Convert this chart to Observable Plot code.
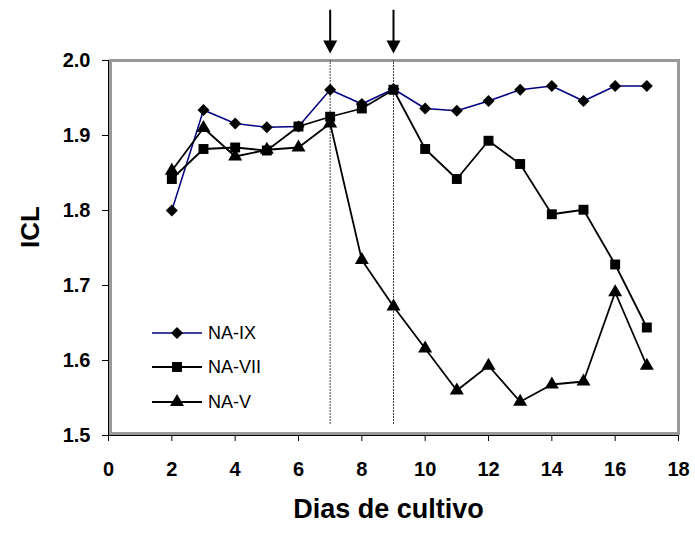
<!DOCTYPE html>
<html>
<head>
<meta charset="utf-8">
<script src="https://cdn.jsdelivr.net/npm/d3@7"></script>
<script src="https://cdn.jsdelivr.net/npm/@observablehq/plot@0.6"></script>
<style>
  html, body { margin: 0; padding: 0; background: #fff; }
  #wrap { position: relative; width: 695px; height: 536px; }
  #legend { position: absolute; left: 0; top: 0; pointer-events: none; }
</style>
</head>
<body>
<div id="wrap"></div>
<script>
// ---- data ----
const days = [2, 3, 4, 5, 6, 7, 8, 9, 10, 11, 12, 13, 14, 15, 16, 17];
const naIX  = [1.800, 1.934, 1.916, 1.911, 1.912, 1.961, 1.942, 1.962, 1.936, 1.933, 1.946, 1.961, 1.966, 1.946, 1.966, 1.966];
const naVII = [1.842, 1.882, 1.884, 1.880, 1.912, 1.925, 1.936, 1.961, 1.882, 1.842, 1.893, 1.862, 1.795, 1.801, 1.728, 1.644];
const naV   = [1.853, 1.910, 1.872, 1.881, 1.884, 1.916, 1.734, 1.672, 1.616, 1.560, 1.593, 1.545, 1.568, 1.572, 1.691, 1.593];
const seriesNames = ["NA-IX", "NA-VII", "NA-V"];
const xTicks = [0, 2, 4, 6, 8, 10, 12, 14, 16, 18];
const yTicks = [1.5, 1.6, 1.7, 1.8, 1.9, 2.0];
const markerDays = [7, 9];          // dotted reference lines / arrows
const dottedRange = [1.515, 2.0];   // y extent of dotted lines
const arrowRange = [2.067, 2.018];  // arrow shaft (top -> head centre)

const rows = (vals) => days.map((d, i) => ({day: d, value: vals[i]}));
const dIX = rows(naIX), dVII = rows(naVII), dV = rows(naV);

const downTriangle = {
  draw(ctx, size) {
    const r = Math.sqrt(size / Math.PI);
    ctx.moveTo(-r, -0.93 * r);
    ctx.lineTo(r, -0.93 * r);
    ctx.lineTo(0, 0.93 * r);
    ctx.closePath();
  }
};

const W = 695, H = 536, mL = 108, mR = 17, mT = 60, mB = 101;
const font = "'Liberation Sans', Arial, Helvetica, sans-serif";

const chart = Plot.plot({
  width: W, height: H,
  marginLeft: mL, marginRight: mR, marginTop: mT, marginBottom: mB,
  style: {fontFamily: font, fontSize: "20px", fontWeight: "bold", color: "#000", background: "#fff", overflow: "visible"},
  x: {domain: [0, 18], ticks: xTicks, tickSize: 6, tickPadding: 20, tickFormat: d3.format("d"), label: null},
  y: {domain: [1.5, 2.0], ticks: yTicks, tickSize: 6, tickPadding: 12, tickFormat: d3.format(".1f"), label: null},
  marks: [
    Plot.frame({stroke: "#9a9a9a", strokeWidth: 3, insetLeft: 2, insetBottom: 2}),
    Plot.ruleX([0], {stroke: "#000", strokeWidth: 1}),
    Plot.ruleY([1.5], {stroke: "#000", strokeWidth: 1}),
    Plot.ruleX(markerDays, {x: d => d, y1: dottedRange[0], y2: dottedRange[1], stroke: "#000", strokeWidth: 1, strokeDasharray: "1.5,1.5"}),
    Plot.ruleX(markerDays, {x: d => d, y1: arrowRange[0], y2: arrowRange[1], stroke: "#000", strokeWidth: 2}),
    Plot.dot(markerDays, {x: d => d, y: arrowRange[1], symbol: downTriangle, r: 7, fill: "#000", stroke: "none"}),
    // NA-IX
    Plot.line(dIX, {x: "day", y: "value", stroke: "#000080", strokeWidth: 1.5}),
    Plot.dot(dIX, {x: "day", y: "value", symbol: "diamond2", r: 5.4, fill: "#000", stroke: "none"}),
    // NA-V
    Plot.line(dV, {x: "day", y: "value", stroke: "#000", strokeWidth: 1.8}),
    Plot.dot(dV, {x: "day", y: "value", symbol: "triangle", r: 5.2, fill: "#000", stroke: "none"}),
    // NA-VII
    Plot.line(dVII, {x: "day", y: "value", stroke: "#000", strokeWidth: 1.8}),
    Plot.dot(dVII, {x: "day", y: "value", symbol: "square", r: 5.6, fill: "#000", stroke: "none"}),
    // axis titles
    Plot.text(["Dias de cultivo"], {text: d => d, frameAnchor: "bottom", dx: -5, dy: 82, fontSize: 27, fontWeight: "bold", fill: "#000"}),
    Plot.text(["ICL"], {text: d => d, frameAnchor: "left", dx: -78, rotate: -90, fontSize: 26, fontWeight: "bold", fill: "#000"})
  ]
});

const wrap = document.getElementById("wrap");
wrap.appendChild(chart);

// legend (inside plot area, lower left)
const legendItems = [
  {name: seriesNames[0], stroke: "#000080", sw: 1.5, symbol: d3.symbolDiamond2, size: Math.PI * 5.4 * 5.4},
  {name: seriesNames[1], stroke: "#000", sw: 1.8, symbol: d3.symbolSquare, size: Math.PI * 5.6 * 5.6},
  {name: seriesNames[2], stroke: "#000", sw: 1.8, symbol: d3.symbolTriangle, size: Math.PI * 5.2 * 5.2}
];
const lg = d3.select(wrap).append("svg").attr("id", "legend").attr("width", W).attr("height", H);
const rowY = [333, 367, 402];
legendItems.forEach((it, i) => {
  const g = lg.append("g").attr("transform", `translate(0,${rowY[i]})`);
  g.append("line").attr("x1", 152).attr("x2", 202).attr("y1", 0).attr("y2", 0)
    .attr("stroke", it.stroke).attr("stroke-width", it.sw);
  g.append("path").attr("transform", "translate(177,0)")
    .attr("d", d3.symbol(it.symbol, it.size)()).attr("fill", "#000");
  g.append("text").attr("x", 208).attr("y", 0).attr("dy", "0.36em")
    .attr("font-family", font).attr("font-size", 18).attr("fill", "#000").text(it.name);
});
</script>
</body>
</html>
